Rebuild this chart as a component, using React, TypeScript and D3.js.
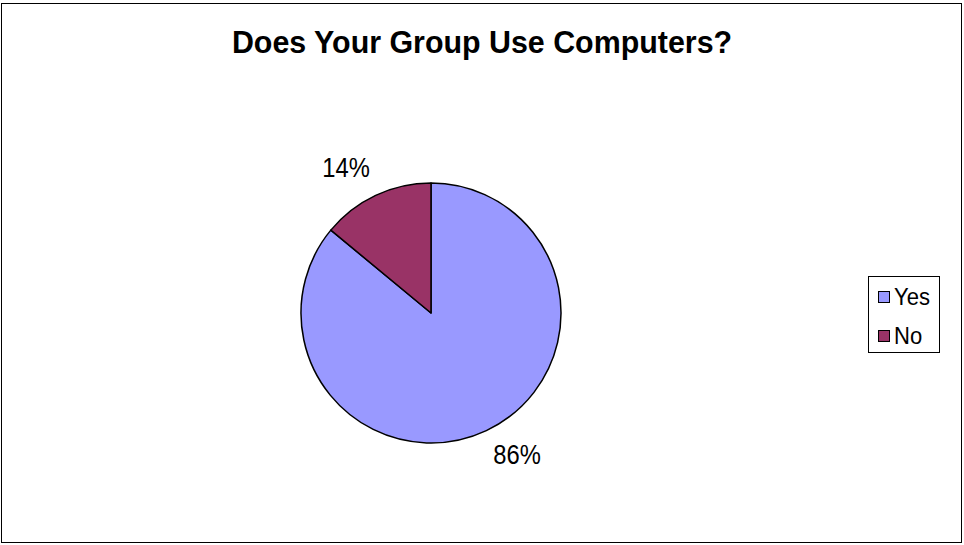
import React from "react";
import * as d3 from "d3";

const categories = ["Yes", "No"];
const values = [86, 14];
const labels = ["86%", "14%"];
const colors = ["#9999FF", "#993366"];

function T(props: { x: number; y: number; sx: number; size: number; anchor?: string; weight?: string; children: React.ReactNode }) {
  return (
    <text
      transform={`translate(${props.x},${props.y}) scale(${props.sx},1)`}
      textAnchor={props.anchor || "start"}
      fontSize={props.size}
      fontWeight={props.weight || "normal"}
    >
      {props.children}
    </text>
  );
}

export default function App() {
  const W = 964, H = 545;
  const cx = 431, cy = 313, r = 130;
  const pie = d3.pie<number>().sort(null).value((d) => d);
  const arcs = pie(values);
  const arc = d3.arc<d3.PieArcDatum<number>>().innerRadius(0).outerRadius(r);
  const labelPos = [
    { x: 517, y: 464 },
    { x: 346, y: 177 },
  ];
  return (
    <svg width={W} height={H} style={{ position: "absolute", left: 0, top: 0 }} fontFamily="Liberation Sans, Arial, sans-serif">
      <rect x={0} y={0} width={W} height={H} fill="#fff" />
      <rect x={1.5} y={3.5} width={960} height={539} fill="none" stroke="#000" strokeWidth={1} />
      <T x={482} y={53} sx={0.98} size={31} anchor="middle" weight="bold">Does Your Group Use Computers?</T>
      <g transform={`translate(${cx},${cy})`}>
        {arcs.map((a, i) => (
          <path key={i} d={arc(a) || ""} fill={colors[i]} stroke="#000" strokeWidth={1.5} strokeLinejoin="round" />
        ))}
      </g>
      {arcs.map((a, i) => (
        <T key={i} x={labelPos[i].x} y={labelPos[i].y} sx={0.88} size={27} anchor="middle">{labels[i]}</T>
      ))}
      <rect x={868.5} y={276.5} width={71} height={76} fill="none" stroke="#000" strokeWidth={1} />
      {categories.map((c, i) => (
        <g key={c} transform={`translate(878,${291 + i * 39})`}>
          <rect x={0.5} y={0.5} width={11} height={11} fill={colors[i]} stroke="#000" strokeWidth={1} />
          <T x={16} y={14} sx={0.92} size={24}>{c}</T>
        </g>
      ))}
    </svg>
  );
}
